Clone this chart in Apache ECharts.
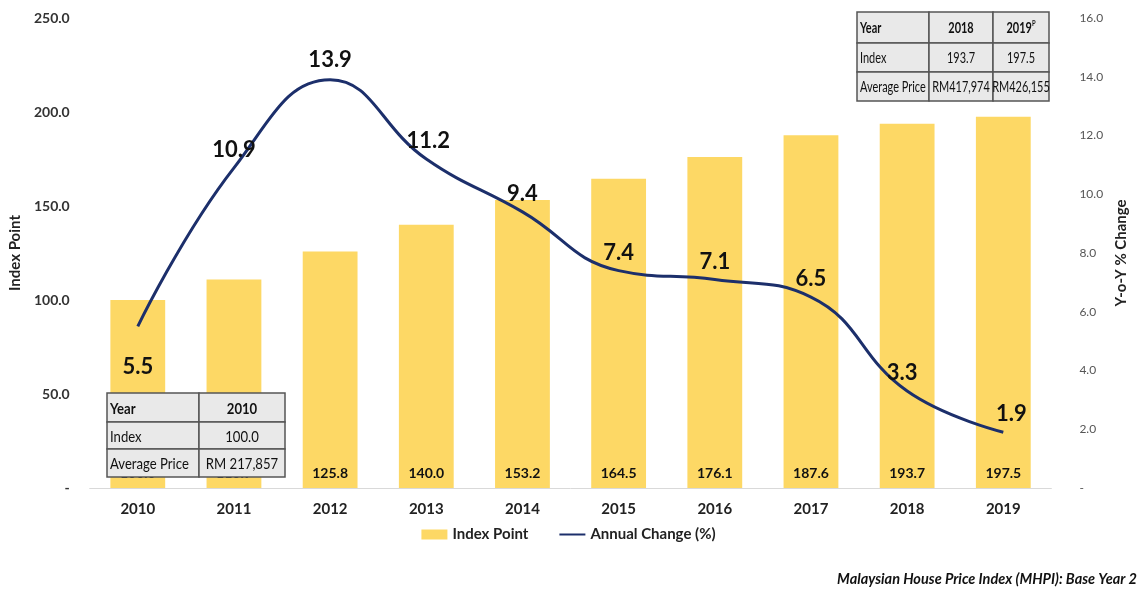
<!DOCTYPE html>
<html>
<head>
<meta charset="utf-8">
<script src="https://cdn.jsdelivr.net/npm/echarts@6/dist/echarts.min.js"></script>
<style>
  html, body { margin: 0; padding: 0; background: #fff; }
  #chart { width: 1137px; height: 589px; }
</style>
</head>
<body>
<div id="chart"></div>
<script>
// data
var years = ['2010', '2011', '2012', '2013', '2014', '2015', '2016', '2017', '2018', '2019']
var indexPoint = [100.0, 110.9, 125.8, 140.0, 153.2, 164.5, 176.1, 187.6, 193.7, 197.5]
var annualChange = [5.5, 10.9, 13.9, 11.2, 9.4, 7.4, 7.1, 6.5, 3.3, 1.9]

// small tables on the chart
var tableTop = [
  ['Year', '2018', '2019P'],
  ['Index', '193.7', '197.5'],
  ['Average Price', 'RM417,974', 'RM426,155']
]
var tableBottom = [
  ['Year', '2010'],
  ['Index', '100.0'],
  ['Average Price', 'RM 217,857']
]

var FONT = 'Lato'

// builds the graphic cells of a table (text squeezed a bit, like Calibri)
function makeTable (rows, x0, y0, colW, rowH, size, squeeze) {
  var els = []
  var y = y0
  rows.forEach(function (row, r) {
    var x = x0
    row.forEach(function (cell, c) {
      els.push({
        type: 'rect',
        z: 100,
        shape: { x: x, y: y, width: colW[c], height: rowH[r] },
        style: { fill: '#e9e9e9', stroke: '#555', lineWidth: 1.5 }
      })
      var bold = r === 0
      var txt = cell
      var rich = null
      if (cell === '2019P') {
        txt = '{b|2019}{s|P}'
        rich = {
          b: { fontFamily: FONT, fontSize: size, fontWeight: 'bold', fill: '#111' },
          s: { fontFamily: FONT, fontSize: 8, fontWeight: 'bold', fill: '#111', verticalAlign: 'top', padding: [0, 0, 10, 0] }
        }
      }
      els.push({
        type: 'text',
        z: 101,
        x: c === 0 ? x + 3 : x + colW[c] / 2,
        y: y + rowH[r] / 2 + 1,
        scaleX: squeeze,
        style: {
          x: 0,
          y: 0,
          text: txt,
          rich: rich,
          align: c === 0 ? 'left' : 'center',
          verticalAlign: 'middle',
          fontFamily: FONT,
          fontSize: size,
          fontWeight: bold ? 'bold' : 'normal',
          fill: '#111'
        }
      })
      x += colW[c]
    })
    y += rowH[r]
  })
  return els
}

// label positions so the numbers sit like the original
var labelPos = ['bottom', 'top', 'top', 'top', 'top', 'top', 'top', 'top', 'top', 'top']
var labelOffset = [[0, 24], [0, -2], [0, -4], [2, -2], [0, -2], [0, -2], [0, -2], [0, -2], [-5, -2], [8, -2]]

var chart = echarts.init(document.getElementById('chart'))
chart.setOption({
  animation: false,
  textStyle: { fontFamily: FONT },
  grid: { left: 86, right: 75, top: 18, bottom: 101 },
  legend: {
    bottom: 42,
    left: 'center',
    itemGap: 30,
    itemWidth: 26,
    itemHeight: 10,
    textStyle: { fontFamily: FONT, fontSize: 15, fontWeight: 'bold', color: '#222' },
    data: [
      { name: 'Index Point', icon: 'rect' },
      { name: 'Annual Change (%)', itemStyle: { color: 'rgba(0,0,0,0)', borderColor: 'rgba(0,0,0,0)', borderWidth: 0 } }
    ]
  },
  xAxis: {
    type: 'category',
    data: years,
    axisLine: { lineStyle: { color: '#d9d9d9' } },
    axisTick: { show: false },
    axisLabel: { fontFamily: FONT, fontSize: 15, fontWeight: 'bold', color: '#222', margin: 14 }
  },
  yAxis: [
    {
      type: 'value',
      min: 0,
      max: 250,
      interval: 50,
      name: 'Index Point',
      nameLocation: 'middle',
      nameGap: 66,
      nameTextStyle: { fontFamily: FONT, fontSize: 15, fontWeight: 'bold', color: '#222' },
      splitLine: { show: false },
      axisLine: { show: false },
      axisTick: { show: false },
      axisLabel: {
        fontFamily: FONT, fontSize: 14, fontWeight: 'bold', color: '#333', margin: 20,
        formatter: function (v) { return v === 0 ? '-' : v.toFixed(1) }
      }
    },
    {
      type: 'value',
      min: 0,
      max: 16,
      interval: 2,
      name: 'Y-o-Y % Change',
      nameLocation: 'middle',
      nameGap: 55,
      nameRotate: 90,
      nameTextStyle: { fontFamily: FONT, fontSize: 15, fontWeight: 'bold', color: '#222' },
      splitLine: { show: false },
      axisLine: { show: false },
      axisTick: { show: false },
      axisLabel: {
        fontFamily: FONT, fontSize: 12, color: '#555', margin: 28,
        formatter: function (v) { return v === 0 ? '-' : v.toFixed(1) }
      }
    }
  ],
  series: [
    {
      name: 'Index Point',
      type: 'bar',
      data: indexPoint,
      barWidth: '57%',
      itemStyle: { color: '#fdd865' },
      label: {
        show: true,
        position: 'insideBottom',
        distance: 8,
        fontFamily: FONT,
        fontSize: 14,
        fontWeight: 'bold',
        color: '#111',
        formatter: function (p) { return p.value.toFixed(1) }
      }
    },
    {
      name: 'Annual Change (%)',
      type: 'line',
      yAxisIndex: 1,
      smooth: 0.45,
      symbol: 'circle',
      showSymbol: true,
      symbolSize: 0,
      lineStyle: { color: '#1c2f6b', width: 3 },
      itemStyle: { color: '#1c2f6b' },
      data: annualChange.map(function (v, i) {
        return {
          value: v,
          label: { position: labelPos[i], offset: labelOffset[i] }
        }
      }),
      label: {
        show: true,
        fontFamily: FONT,
        fontSize: 22,
        fontWeight: 'bold',
        color: '#111',
        formatter: function (p) { return p.value.toFixed(1) }
      }
    }
  ],
  graphic: makeTable(tableTop, 857, 12, [72, 64, 56], [31, 29, 29], 15, 0.73)
    .concat(makeTable(tableBottom, 107, 393, [92, 86], [29, 27, 28], 16, 0.82))
    .concat([{
      type: 'text',
      right: 0,
      top: 572,
      style: {
        text: 'Malaysian House Price Index (MHPI): Base Year 2',
        fontFamily: FONT,
        fontSize: 14.5,
        fontWeight: 'bold',
        fontStyle: 'italic',
        fill: '#111'
      }
    }])
})
</script>
</body>
</html>
